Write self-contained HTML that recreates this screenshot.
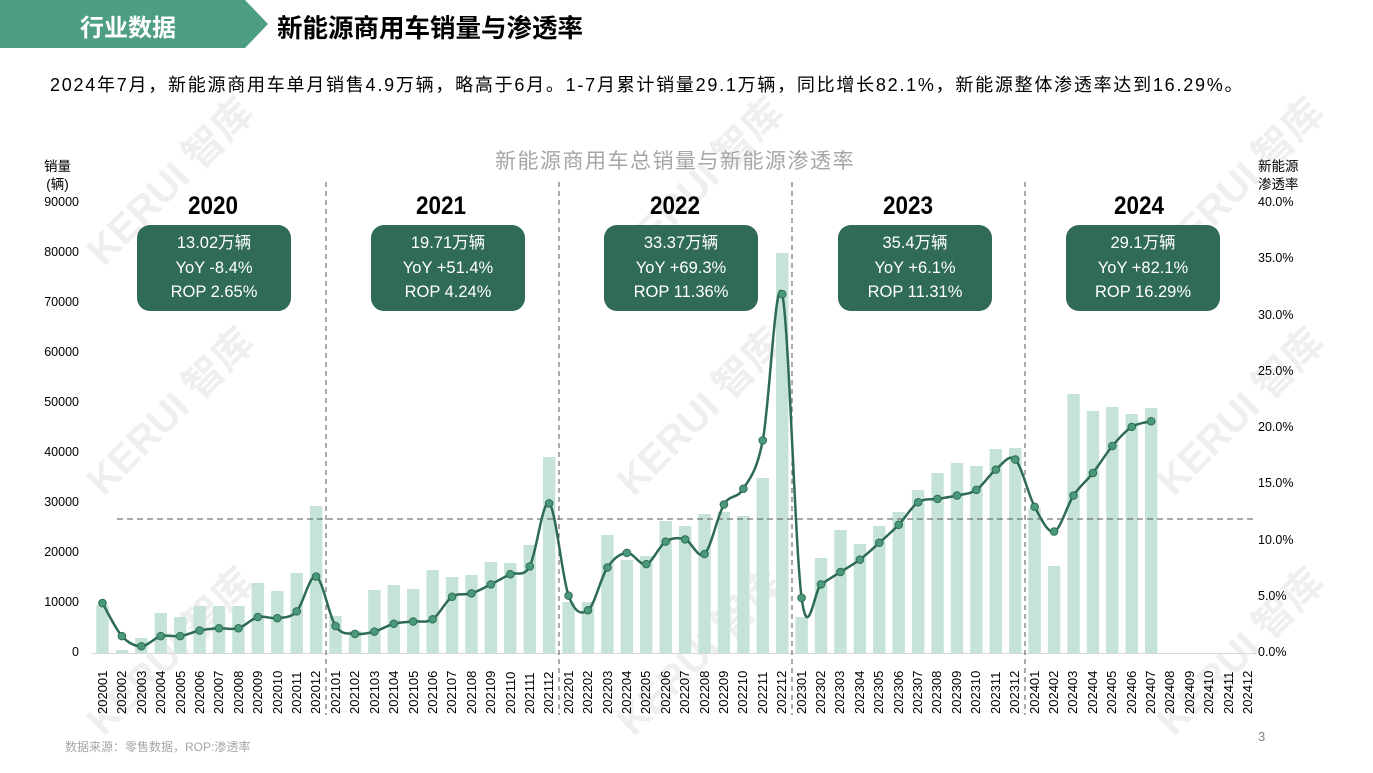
<!DOCTYPE html>
<html><head><meta charset="utf-8"><style>
body{margin:0;width:1373px;height:773px;background:#fff;position:relative;overflow:hidden;font-family:"Liberation Sans","Noto Sans CJK SC",sans-serif}
.abs{position:absolute}
.box{position:absolute;top:225px;width:154px;height:86px;background:#2f6b55;border-radius:13px;color:#fff;text-align:center;font-size:16.5px;line-height:24.5px;padding-top:6px;box-sizing:border-box}
.yr{position:absolute;top:192px;width:154px;text-align:center;font-size:25px;font-weight:bold;color:#000;transform:scaleX(0.9)}
.yl{position:absolute;right:1294px;font-size:12.5px;color:#000}
.yr2{position:absolute;left:1258px;font-size:12.5px;color:#000}
#xl{position:absolute;left:92.8px;top:660px;display:flex}
#xl div{width:19.42px;height:54px;display:flex;justify-content:center}
#xl span{writing-mode:vertical-rl;transform:rotate(180deg);font-size:13px;color:#000;line-height:19px}
.wm{position:absolute;color:#efefef;font-size:40px;font-weight:bold;transform:rotate(-45deg);white-space:nowrap}
</style></head><body>
<div class="wm" style="left:60px;top:150px">KERUI 智库</div>
<div class="wm" style="left:60px;top:380px">KERUI 智库</div>
<div class="wm" style="left:60px;top:620px">KERUI 智库</div>
<div class="wm" style="left:590px;top:150px">KERUI 智库</div>
<div class="wm" style="left:590px;top:380px">KERUI 智库</div>
<div class="wm" style="left:590px;top:620px">KERUI 智库</div>
<div class="wm" style="left:1130px;top:150px">KERUI 智库</div>
<div class="wm" style="left:1130px;top:380px">KERUI 智库</div>
<div class="wm" style="left:1130px;top:620px">KERUI 智库</div>

<svg class="abs" style="left:0;top:0" width="1373" height="50"><polygon points="0,0 245,0 268,24 245,48 0,48" fill="#4e9e83"/></svg>
<div class="abs" style="left:0;width:256px;top:8px;text-align:center;color:#fff;font-size:24px;font-weight:bold">行业数据</div>
<div class="abs" style="left:277px;top:8px;color:#000;font-size:25.5px;font-weight:bold">新能源商用车销量与渗透率</div>
<div class="abs" style="left:50px;top:71px;font-size:18px;letter-spacing:1.75px;color:#000;white-space:nowrap">2024年7月，新能源商用车单月销售4.9万辆，略高于6月。1-7月累计销量29.1万辆，同比增长82.1%，新能源整体渗透率达到16.29%。</div>
<div class="abs" style="left:0;width:1350px;top:145px;text-align:center;font-size:21px;letter-spacing:1.5px;color:#a6a6a6">新能源商用车总销量与新能源渗透率</div>
<div class="abs" style="left:44px;top:158px;font-size:13.5px;text-align:center;line-height:18px">销量<br>(辆)</div>
<div class="abs" style="left:1258px;top:158px;font-size:13.5px;text-align:center;line-height:18px">新能源<br>渗透率</div>

<svg id="ch" class="abs" style="left:0;top:0" width="1373" height="773"></svg>

<div class="yl" style="top:195px">90000</div><div class="yl" style="top:245px">80000</div><div class="yl" style="top:295px">70000</div><div class="yl" style="top:345px">60000</div><div class="yl" style="top:395px">50000</div><div class="yl" style="top:445px">40000</div><div class="yl" style="top:495px">30000</div><div class="yl" style="top:545px">20000</div><div class="yl" style="top:595px">10000</div><div class="yl" style="top:645px">0</div>
<div class="yr2" style="top:195px">40.0%</div><div class="yr2" style="top:251px">35.0%</div><div class="yr2" style="top:308px">30.0%</div><div class="yr2" style="top:364px">25.0%</div><div class="yr2" style="top:420px">20.0%</div><div class="yr2" style="top:476px">15.0%</div><div class="yr2" style="top:533px">10.0%</div><div class="yr2" style="top:589px">5.0%</div><div class="yr2" style="top:645px">0.0%</div>

<div class="yr" style="left:136px">2020</div><div class="yr" style="left:364px">2021</div><div class="yr" style="left:598px">2022</div><div class="yr" style="left:831px">2023</div><div class="yr" style="left:1062px">2024</div>
<div class="box" style="left:137px">13.02万辆<br>YoY -8.4%<br>ROP 2.65%</div>
<div class="box" style="left:371px">19.71万辆<br>YoY +51.4%<br>ROP 4.24%</div>
<div class="box" style="left:604px">33.37万辆<br>YoY +69.3%<br>ROP 11.36%</div>
<div class="box" style="left:838px">35.4万辆<br>YoY +6.1%<br>ROP 11.31%</div>
<div class="box" style="left:1066px">29.1万辆<br>YoY +82.1%<br>ROP 16.29%</div>

<div id="xl">
<div><span>202001</span></div><div><span>202002</span></div><div><span>202003</span></div><div><span>202004</span></div><div><span>202005</span></div><div><span>202006</span></div><div><span>202007</span></div><div><span>202008</span></div><div><span>202009</span></div><div><span>202010</span></div><div><span>202011</span></div><div><span>202012</span></div>
<div><span>202101</span></div><div><span>202102</span></div><div><span>202103</span></div><div><span>202104</span></div><div><span>202105</span></div><div><span>202106</span></div><div><span>202107</span></div><div><span>202108</span></div><div><span>202109</span></div><div><span>202110</span></div><div><span>202111</span></div><div><span>202112</span></div>
<div><span>202201</span></div><div><span>202202</span></div><div><span>202203</span></div><div><span>202204</span></div><div><span>202205</span></div><div><span>202206</span></div><div><span>202207</span></div><div><span>202208</span></div><div><span>202209</span></div><div><span>202210</span></div><div><span>202211</span></div><div><span>202212</span></div>
<div><span>202301</span></div><div><span>202302</span></div><div><span>202303</span></div><div><span>202304</span></div><div><span>202305</span></div><div><span>202306</span></div><div><span>202307</span></div><div><span>202308</span></div><div><span>202309</span></div><div><span>202310</span></div><div><span>202311</span></div><div><span>202312</span></div>
<div><span>202401</span></div><div><span>202402</span></div><div><span>202403</span></div><div><span>202404</span></div><div><span>202405</span></div><div><span>202406</span></div><div><span>202407</span></div><div><span>202408</span></div><div><span>202409</span></div><div><span>202410</span></div><div><span>202411</span></div><div><span>202412</span></div>
</div>
<div class="abs" style="left:65px;top:738px;font-size:12px;color:#a6a6a6">数据来源：零售数据，ROP:渗透率</div>
<div class="abs" style="left:1258px;top:729px;font-size:13px;color:#7f7f7f">3</div>

<script>
var bars=[9600,600,3000,8000,7200,9400,9400,9400,14000,12400,16000,29400,
7400,4400,12600,13600,12800,16600,15200,15600,18200,18000,21600,39200,
10200,10200,23600,18600,19400,26400,25400,27800,28200,27400,35000,80000,
7200,19000,24600,21800,25400,28200,32600,36000,38000,37400,40800,41000,
29000,17400,51800,48400,49200,47800,49000];
var pct=[4.44,1.5,0.6,1.5,1.5,2.0,2.2,2.2,3.2,3.1,3.7,6.8,
2.4,1.7,1.9,2.6,2.8,3.0,5.0,5.3,6.1,7.0,7.7,13.3,
5.1,3.8,7.6,8.9,7.9,9.9,10.1,8.8,13.2,14.6,18.9,31.9,
4.9,6.1,7.2,8.3,9.8,11.4,13.4,13.7,14.0,14.5,16.3,17.2,
13.0,10.8,14.0,16.0,18.4,20.1,20.6];
var x0=102.5,st=19.42,b=653,s='';
function X(i){return x0+i*st}
for(var i=0;i<bars.length;i++){var h=bars[i]/200;s+='<rect x="'+(X(i)-6.2)+'" y="'+(b-h)+'" width="12.4" height="'+h+'" fill="#c5e3d8"/>';}
s+='<line x1="92" y1="653.5" x2="1256" y2="653.5" stroke="#d9d9d9" stroke-width="1"/>';
s+='<line x1="117" y1="519" x2="1253" y2="519" stroke="#555" stroke-width="1" stroke-dasharray="6,4"/>';
[326,559,792,1025].forEach(function(x){s+='<line x1="'+x+'" y1="182" x2="'+x+'" y2="715" stroke="#555" stroke-width="1" stroke-dasharray="5,4"/>';});
var P=pct.map(function(p,i){return [X(i),b-p*11.25]});
var d='M'+P[0][0]+','+P[0][1];
for(var i=0;i<P.length-1;i++){var p0=P[Math.max(0,i-1)],p1=P[i],p2=P[i+1],p3=P[Math.min(P.length-1,i+2)],t=6;
d+=' C'+(p1[0]+(p2[0]-p0[0])/t)+','+(p1[1]+(p2[1]-p0[1])/t)+' '+(p2[0]-(p3[0]-p1[0])/t)+','+(p2[1]-(p3[1]-p1[1])/t)+' '+p2[0]+','+p2[1];}
s+='<path d="'+d+'" fill="none" stroke="#2e6b55" stroke-width="2.5"/>';
P.forEach(function(p){s+='<circle cx="'+p[0]+'" cy="'+p[1]+'" r="3.8" fill="#4a9a7a" stroke="#2e6b55" stroke-width="1"/>';});
document.getElementById('ch').innerHTML=s;
</script>
</body></html>
